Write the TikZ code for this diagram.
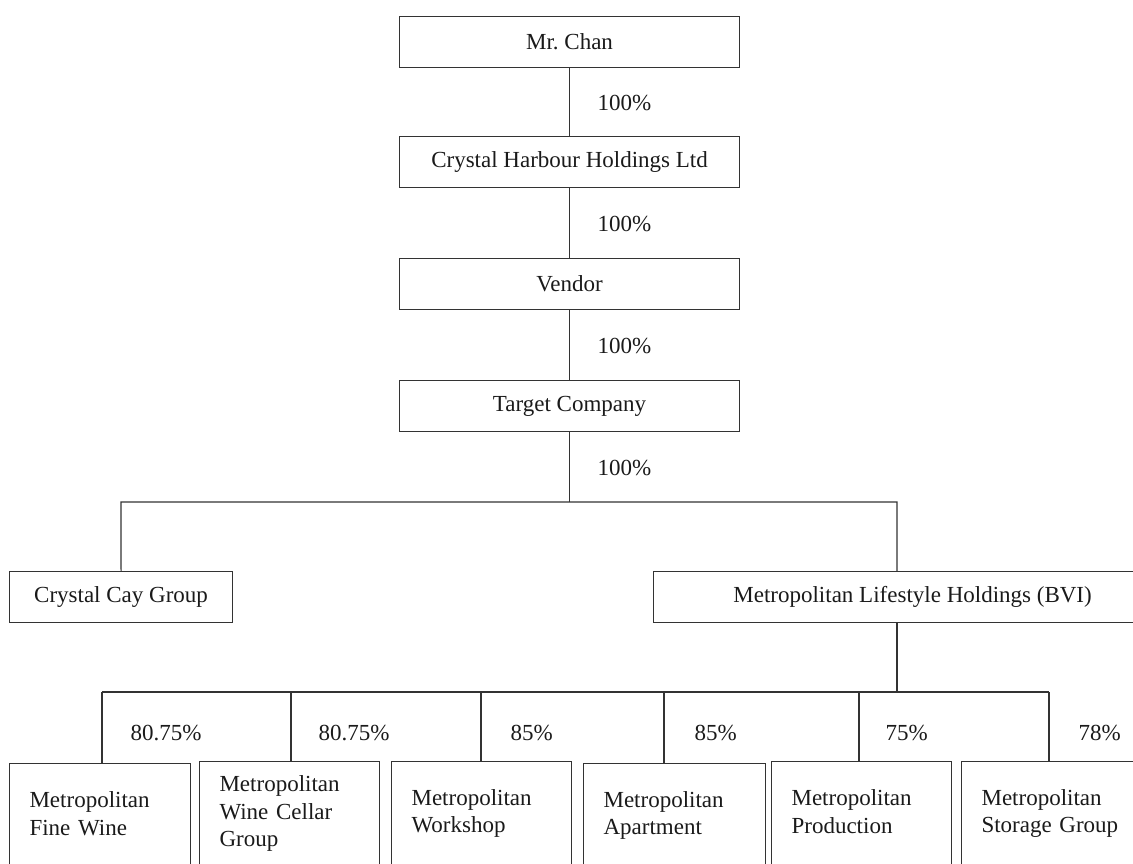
\documentclass[tikz,border=0pt]{standalone}
\usepackage{fontspec}
\setmainfont{Liberation Serif}
\frenchspacing
\definecolor{linec}{HTML}{333333}
\definecolor{txt}{HTML}{1A1A1A}
\newcommand\dstrut{\rule[-4pt]{0pt}{4pt}}
\begin{document}
\begin{tikzpicture}[x=1pt,y=-1pt,line width=1.1pt,draw=linec,
  every node/.style={font=\fontsize{23}{27.5}\selectfont,text=txt},
  topbox/.style={draw=linec,anchor=north west,minimum width=340pt,minimum height=51pt,inner sep=0pt},
  midbox/.style={draw=linec,anchor=north west,minimum height=51pt,inner sep=0pt},
  botbox/.style={draw=linec,anchor=north west,align=left,inner xsep=20pt,inner ysep=0pt,minimum height=104pt},
  pct/.style={anchor=west,inner sep=0pt}]
\useasboundingbox (0,0) rectangle (1133,864);
\clip (0,0) rectangle (1133,864);

% top chain
\node[topbox] (chan) at (399,16) {Mr.\ Chan};
\node[topbox] (chh) at (399,136) {Crystal Harbour Holdings Ltd};
\node[topbox] (vendor) at (399,258) {Vendor};
\node[topbox] (target) at (399,380) {Target Company};

\draw (chan.south) -- (chh.north);
\draw (chh.south) -- (vendor.north);
\draw (vendor.south) -- (target.north);

\node[pct] (p1) at (597,103) {100\%};
\node[pct] (p2) at (597,224) {100\%};
\node[pct] (p3) at (597,346) {100\%};
\node[pct] (p4) at (597,468) {100\%};

% second level
\node[midbox,minimum width=223pt] (cc) at (9,571) {Crystal Cay Group};
\node[midbox,minimum width=518pt] (mlh) at (653,571) {Metropolitan Lifestyle Holdings (BVI)};

\coordinate (busL) at (121,502);
\coordinate (busR) at (897,502);
\draw (target.south) -- (target.south |- busL);
\draw (cc.north) -- (busL) -- (busR) -- (busR |- mlh.north);

% third level
\coordinate (v1) at (102,692);
\coordinate (v2) at (291,692);
\coordinate (v3) at (481,692);
\coordinate (v4) at (664,692);
\coordinate (v5) at (859,692);
\coordinate (v6) at (1049,692);

\node[botbox,text width=141pt] (b1) at (9,763) {Metropolitan\\Fine Wine\dstrut};
\node[botbox,text width=140pt] (b2) at (199,761) {Metropolitan\\Wine Cellar\\Group\dstrut};
\node[botbox,text width=140pt] (b3) at (391,761) {Metropolitan\\Workshop\dstrut};
\node[botbox,text width=142pt] (b4) at (583,763) {Metropolitan\\Apartment\dstrut};
\node[botbox,text width=140pt] (b5) at (771,761) {Metropolitan\\Production\dstrut};
\node[botbox,text width=140pt] (b6) at (961,761) {Metropolitan\\Storage Group\dstrut};

\draw (busR |- mlh.south) -- (busR |- v1);
\draw (v1) -- (v6);
\draw (v1) -- (v1 |- b1.north);
\draw (v2) -- (v2 |- b2.north);
\draw (v3) -- (v3 |- b3.north);
\draw (v4) -- (v4 |- b4.north);
\draw (v5) -- (v5 |- b5.north);
\draw (v6) -- (v6 |- b6.north);

\node[pct] (q1) at (130,733) {80.75\%};
\node[pct] (q2) at (318,733) {80.75\%};
\node[pct] (q3) at (510,733) {85\%};
\node[pct] (q4) at (694,733) {85\%};
\node[pct] (q5) at (885,733) {75\%};
\node[pct] (q6) at (1078,733) {78\%};
\end{tikzpicture}
\end{document}
